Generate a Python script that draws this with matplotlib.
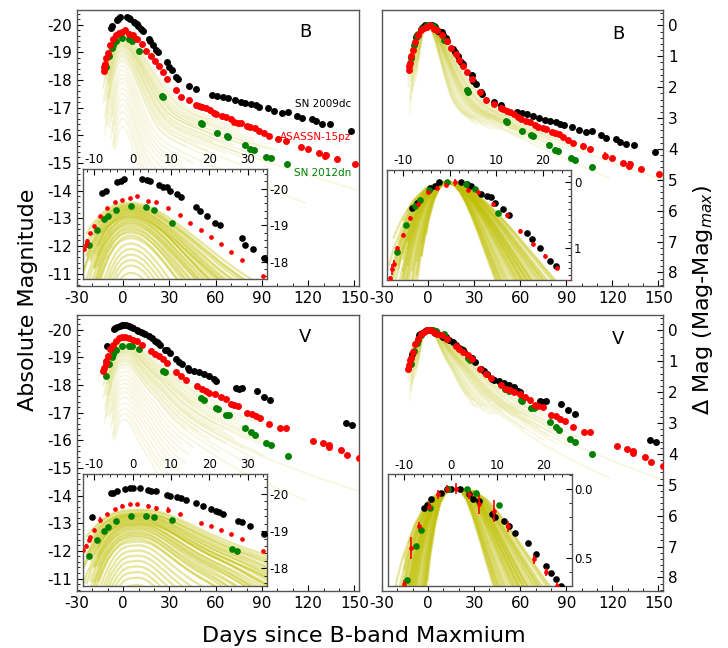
import numpy as np
import matplotlib
matplotlib.use('Agg')
import matplotlib.pyplot as plt
from matplotlib.ticker import MultipleLocator, FormatStrFormatter

plt.rcParams['axes.unicode_minus'] = False

# ---------------- SN light curves ----------------
# SN 2009dc, B band (absolute mag)
dc_b_day = [-8.1, -7.0, -4.2, -3.2, -2.3, 2.5, 3.6, 4.6, 6.8, 7.9,
            8.8, 9.6, 11.5, 12.6, 16.5, 17.6, 19.4, 21.5, 22.8, 28.6,
            29.4, 31.4, 34.3, 35.4, 42.9, 47.2, 57.8, 61.0, 64.7, 68.1,
            72.4, 76.1, 79.3, 83.2, 86.1, 88.3, 93.8, 98.1, 102.8, 106.7,
            112.5, 115.7, 122.6, 125.3, 129.0, 133.9, 147.8]
dc_b_mag = [-19.88, -19.95, -20.18, -20.20, -20.26, -20.26, -20.23, -20.20, -20.09, -20.06,
            -20.04, -19.95, -19.86, -19.77, -19.49, -19.40, -19.26, -19.07, -19.00, -18.66,
            -18.46, -18.36, -18.11, -18.05, -17.79, -17.67, -17.47, -17.43, -17.38, -17.34,
            -17.26, -17.20, -17.16, -17.13, -17.08, -17.02, -16.98, -16.88, -16.82, -16.84,
            -16.70, -16.62, -16.58, -16.50, -16.41, -16.40, -16.16]

# ASASSN-15pz, B band
pz_b_day = [-12.7, -12.3, -12.0, -11.3, -10.1, -8.6, -6.7, -4.7, -2.7, -0.8,
            1.2, 4.0, 6.0, 9.2, 12.2, 15.0, 17.9, 20.4, 22.9, 25.6,
            28.5, 33.9, 37.5, 42.9, 47.2, 48.9, 51.4, 53.6, 56.2, 58.9,
            60.4, 63.9, 66.4, 69.7, 71.8, 74.6, 76.7, 80.4, 82.5, 85.3,
            87.9, 91.1, 94.7, 100.7, 105.4, 115.3, 120.0, 126.9, 130.7, 131.5,
            138.8, 150.5]
pz_b_mag = [-18.34, -18.47, -18.56, -18.79, -18.99, -19.25, -19.47, -19.64, -19.70, -19.75,
            -19.79, -19.67, -19.64, -19.47, -19.29, -19.05, -18.86, -18.67, -18.49, -18.28,
            -18.05, -17.62, -17.38, -17.26, -17.10, -17.07, -17.02, -16.97, -16.92, -16.82,
            -16.76, -16.71, -16.66, -16.58, -16.49, -16.46, -16.44, -16.34, -16.29, -16.26,
            -16.17, -16.08, -15.98, -15.87, -15.80, -15.57, -15.50, -15.35, -15.25, -15.30,
            -15.13, -14.97]
pz_b_err = [0.03, 0.08, 0.06, 0.03, 0.03, 0.03, 0.03, 0.03, 0.03, 0.03,
            0.05, 0.03, 0.03, 0.03, 0.03, 0.03, 0.03, 0.03, 0.03, 0.03,
            0.03, 0.03, 0.03, 0.03, 0.03, 0.03, 0.03, 0.03, 0.03, 0.03,
            0.03, 0.03, 0.03, 0.03, 0.03, 0.03, 0.03, 0.03, 0.03, 0.03,
            0.03, 0.03, 0.03, 0.10, 0.03, 0.12, 0.03, 0.03, 0.14, 0.10,
            0.03, 0.03]

# SN 2012dn, B band
dn_b_day = [-11.4, -9.4, -7.5, -6.4, -4.4, -0.5, 3.5, 5.5, 10.3, 25.3,
            26.0, 50.6, 51.4, 61.0, 67.0, 68.2, 78.9, 82.5, 84.6, 92.8,
            95.8, 106.5]
dn_b_mag = [-18.46, -18.88, -19.17, -19.25, -19.41, -19.52, -19.49, -19.42, -19.05, -17.43,
            -17.37, -16.43, -16.40, -16.10, -15.96, -15.95, -15.65, -15.50, -15.45, -15.23,
            -15.17, -14.95]

# SN 2009dc, V band
dc_v_day = [-10.7, -5.8, -5.1, -4.2, -2.1, -0.8, 0.1, 2.0, 4.0, 4.8,
            6.0, 8.8, 9.6, 11.5, 12.6, 13.8, 16.5, 18.4, 20.4, 21.6,
            22.6, 23.6, 27.4, 28.5, 30.6, 34.3, 36.4, 38.2, 41.8, 42.9,
            46.1, 49.3, 52.5, 55.7, 58.9, 60.0, 72.9, 75.0, 77.1, 86.8,
            91.1, 95.4, 144.6, 148.3]
dc_v_mag = [-19.39, -20.02, -20.04, -20.09, -20.13, -20.16, -20.16, -20.16, -20.12, -20.09,
            -20.07, -19.98, -19.96, -19.93, -19.89, -19.84, -19.77, -19.69, -19.60, -19.55,
            -19.51, -19.46, -19.28, -19.26, -19.15, -18.92, -18.83, -18.75, -18.60, -18.54,
            -18.51, -18.47, -18.39, -18.32, -18.20, -18.15, -17.88, -17.84, -17.88, -17.79,
            -17.58, -17.46, -16.62, -16.56]

# ASASSN-15pz, V band
pz_v_day = [-12.9, -12.2, -11.5, -11.2, -10.1, -8.6, -6.8, -4.7, -2.8, -0.8,
            1.2, 4.0, 6.0, 9.2, 12.4, 17.9, 20.4, 22.9, 25.7, 28.5,
            33.9, 37.5, 40.7, 47.6, 51.0, 53.6, 55.7, 59.6, 63.2, 66.5,
            69.7, 71.8, 74.6, 80.3, 83.6, 86.1, 88.9, 94.7, 101.4, 105.4,
            123.2, 129.8, 133.5, 133.5, 141.4, 145.4, 152.8]
pz_v_mag = [-18.49, -18.61, -18.76, -18.85, -19.04, -19.30, -19.46, -19.60, -19.69, -19.73,
            -19.73, -19.69, -19.62, -19.57, -19.46, -19.22, -19.13, -19.03, -18.92, -18.79,
            -18.47, -18.32, -18.18, -17.96, -17.84, -17.79, -17.72, -17.67, -17.58, -17.48,
            -17.31, -17.28, -17.24, -17.00, -16.95, -16.86, -16.80, -16.59, -16.44, -16.44,
            -15.99, -15.90, -15.83, -15.76, -15.64, -15.47, -15.34]
pz_v_err = [0.03, 0.05, 0.06, 0.03, 0.03, 0.08, 0.03, 0.03, 0.03, 0.03,
            0.04, 0.03, 0.07, 0.08, 0.04, 0.03, 0.03, 0.03, 0.03, 0.03,
            0.03, 0.03, 0.03, 0.03, 0.03, 0.03, 0.03, 0.03, 0.03, 0.03,
            0.03, 0.03, 0.03, 0.03, 0.03, 0.03, 0.03, 0.03, 0.03, 0.03,
            0.03, 0.03, 0.03, 0.03, 0.03, 0.03, 0.03]

# SN 2012dn, V band
dn_v_day = [-11.4, -9.4, -7.5, -6.4, -4.4, -0.5, 3.5, 5.5, 10.3, 26.0,
            27.1, 50.4, 52.5, 60.4, 61.5, 66.8, 68.9, 79.3, 83.2, 85.3,
            92.5, 96.0, 106.7]
dn_v_mag = [-18.34, -18.76, -19.01, -19.12, -19.28, -19.42, -19.42, -19.39, -19.30, -18.52,
            -18.46, -17.52, -17.46, -17.16, -17.14, -16.92, -16.90, -16.44, -16.28, -16.20,
            -15.90, -15.81, -15.42]

# ---------------- comparison sample (normal SNe Ia) ----------------
# mean light-curve shape (mag below peak)
tpl_day = [-24, -20, -18, -16, -14, -12, -10, -8, -6, -4,
           -2, 0, 2, 4, 6, 8, 10, 12, 15, 18,
           21, 24, 27, 30, 35, 40, 50, 60, 80, 100,
           130, 170, 300]
tpl_b = [7.0, 5.0, 4.1, 3.3, 2.35, 1.6, 1.0, 0.57, 0.27, 0.09,
         0.01, 0.0, 0.05, 0.15, 0.3, 0.48, 0.68, 0.9, 1.22, 1.55,
         1.85, 2.12, 2.35, 2.52, 2.72, 2.86, 3.07, 3.3, 3.65, 4.0,
         4.5, 5.15, 7.0]
tpl_v = [6.0, 4.2, 3.4, 2.6, 1.9, 1.3, 0.85, 0.5, 0.26, 0.1,
         0.03, 0.01, 0.0, 0.02, 0.08, 0.18, 0.3, 0.43, 0.62, 0.8,
         0.96, 1.1, 1.25, 1.42, 1.7, 1.95, 2.35, 2.65, 3.2, 3.7,
         4.3, 5.0, 7.0]
# per-object peak magnitudes, time stretch and coverage
cmp_peak_b = [-19.62, -19.58, -19.55, -19.52, -19.50, -19.47, -19.45, -19.43, -19.40, -19.38,
              -19.35, -19.33, -19.30, -19.27, -19.25, -19.22, -19.20, -19.16, -19.12, -19.08,
              -19.05, -19.00, -18.95, -18.90, -18.85, -18.80, -18.72, -18.65, -18.50, -18.35,
              -18.20, -18.05, -17.90, -17.70, -17.50, -17.30, -17.10, -16.85, -16.60, -16.30]
cmp_peak_v = [-19.58, -19.55, -19.50, -19.48, -19.46, -19.44, -19.42, -19.40, -19.38, -19.35,
              -19.33, -19.30, -19.28, -19.25, -19.22, -19.20, -19.18, -19.15, -19.12, -19.08,
              -19.05, -19.00, -18.96, -18.92, -18.88, -18.84, -18.78, -18.72, -18.62, -18.48,
              -18.34, -18.20, -18.05, -17.90, -17.75, -17.55, -17.35, -17.15, -16.95, -16.75]
cmp_stretch = [1.30, 1.25, 1.20, 1.15, 1.28, 1.10, 1.05, 1.18, 1.00, 1.12,
               0.95, 1.08, 0.98, 1.02, 0.92, 1.15, 0.90, 1.00, 0.88, 0.95,
               0.85, 0.95, 0.82, 0.90, 0.80, 0.87, 0.78, 0.83, 0.75, 0.72,
               0.70, 0.68, 0.66, 0.64, 0.62, 0.62, 0.60, 0.58, 0.58, 0.56]
cmp_first = [-12, -10, -13, -11, -9, -12, -13, -10, -11, -12,
             -9, -13, -10, -11, -12, -8, -10, -13, -11, -9,
             -12, -10, -11, -9, -12, -10, -11, -9, -10, -8,
             -9, -8, -7, -8, -7, -6, -7, -6, -6, -5]
cmp_last = [62, 90, 75, 75, 55, 85, 85, 68, 95, 50,
            80, 100, 60, 88, 72, 45, 92, 65, 78, 58,
            84, 152, 48, 66, 76, 55, 62, 40, 118, 45,
            38, 42, 35, 40, 30, 36, 28, 32, 25, 30]

# ---------------- figure ----------------
fig = plt.figure(figsize=(7.28, 6.48), dpi=100)

main_pos = {'tl': [0.1058, 0.5586, 0.3874, 0.426], 'tr': [0.5247, 0.5586, 0.386, 0.426],
            'bl': [0.1058, 0.088, 0.3874, 0.426], 'br': [0.5247, 0.088, 0.386, 0.426]}
ins_pos = {'tl': [0.114, 0.5694, 0.2527, 0.1698], 'tr': [0.5312, 0.5679, 0.2532, 0.1698],
           'bl': [0.114, 0.0961, 0.2527, 0.1724], 'br': [0.533, 0.0961, 0.2523, 0.1719]}

bands = {'B': (tpl_b, cmp_peak_b,
               [(dc_b_day, dc_b_mag, None, 'black'), (pz_b_day, pz_b_mag, pz_b_err, 'red'),
                (dn_b_day, dn_b_mag, None, 'green')]),
         'V': (tpl_v, cmp_peak_v,
               [(dc_v_day, dc_v_mag, None, 'black'), (pz_v_day, pz_v_mag, pz_v_err, 'red'),
                (dn_v_day, dn_v_mag, None, 'green')])}


def comparison(ax, tpl, peaks, relative, alpha, lw):
    for pk, s, t0, t1 in zip(peaks, cmp_stretch, cmp_first, cmp_last):
        t = np.linspace(t0, t1, 400)
        dm = np.interp(t / s, tpl_day, tpl)
        ax.plot(t, dm if relative else pk + dm, color='y', alpha=alpha, lw=lw, zorder=1)


def supernovae(ax, sets, relative, ms, ms_red):
    for day, mag, err, col in sets:
        mag = np.asarray(mag)
        y = mag - mag.min() if relative else mag
        if err is None:
            ax.plot(day, y, 'o', color=col, ms=ms, mec='none', zorder=3)
        else:
            ax.errorbar(day, y, yerr=err, fmt='o', color=col, ms=ms_red, mec='none',
                        elinewidth=1.2, capsize=0, zorder=3)


def style(ax, lw=1.0):
    for sp in ax.spines.values():
        sp.set_color('#555555')
        sp.set_linewidth(lw)


for key, band, relative in [('tl', 'B', False), ('tr', 'B', True),
                            ('bl', 'V', False), ('br', 'V', True)]:
    tpl, peaks, sets = bands[band]
    ax = fig.add_axes(main_pos[key])
    comparison(ax, tpl, peaks, relative, 0.13, 1.2)
    supernovae(ax, sets, relative, 5, 5)
    ax.set_xlim(-30, 153)
    ax.xaxis.set_major_locator(MultipleLocator(30))
    ax.xaxis.set_minor_locator(MultipleLocator(10))
    ax.yaxis.set_major_locator(MultipleLocator(1))
    ax.yaxis.set_minor_locator(MultipleLocator(0.2))
    ax.tick_params(which='both', direction='in', labelsize=11, top=False)
    ax.tick_params(which='major', length=4)
    ax.tick_params(which='minor', length=2)
    style(ax)
    if relative:
        ax.set_ylim(8.44, -0.5)
        ax.yaxis.tick_right()
        ax.text(124, 0.28, band, fontsize=13, ha='center', va='center')
    else:
        ax.set_ylim(-10.55, -20.53)
        ax.text(118, -19.74, band, fontsize=13, ha='center', va='center')
    if key == 'tl':
        ax.text(148, -17.14, 'SN 2009dc', color='black', fontsize=7.5, ha='right', va='center')
        ax.text(148, -15.93, 'ASASSN-15pz', color='red', fontsize=7.5, ha='right', va='center')
        ax.text(148, -14.63, 'SN 2012dn', color='green', fontsize=7.5, ha='right', va='center')

    ins = fig.add_axes(ins_pos[key])
    comparison(ins, tpl, peaks, relative, 0.38, 1.6)
    supernovae(ins, sets, relative, 4.8, 3.4)
    ins.xaxis.tick_top()
    ins.yaxis.tick_right()
    ins.xaxis.set_major_locator(MultipleLocator(10))
    ins.xaxis.set_minor_locator(MultipleLocator(2))
    ins.tick_params(which='both', direction='in', labelsize=8.5, pad=2)
    ins.tick_params(which='major', length=4)
    ins.tick_params(which='minor', length=2)
    style(ins)
    if relative:
        ins.set_xlim(-13.5, 26)
        if band == 'B':
            ins.set_ylim(1.48, -0.19)
            ins.yaxis.set_major_locator(MultipleLocator(1))
        else:
            ins.set_ylim(0.7, -0.105)
            ins.yaxis.set_major_locator(MultipleLocator(0.5))
            ins.yaxis.set_major_formatter(FormatStrFormatter('%.1f'))
        ins.yaxis.set_minor_locator(MultipleLocator(0.1))
    else:
        ins.set_xlim(-13, 35)
        ins.set_ylim(-17.53, -20.54)
        ins.yaxis.set_major_locator(MultipleLocator(1))
        ins.yaxis.set_minor_locator(MultipleLocator(0.2))

fig.text(0.038, 0.537, 'Absolute Magnitude', rotation=90, fontsize=16, ha='center', va='center')
fig.text(0.965, 0.537, r'$\Delta$ Mag (Mag-Mag$_{max}$)', rotation=90, fontsize=16,
         ha='center', va='center')
fig.text(0.5, 0.018, 'Days since B-band Maxmium', fontsize=16, ha='center', va='center')

fig.savefig('out.png', dpi=100)
